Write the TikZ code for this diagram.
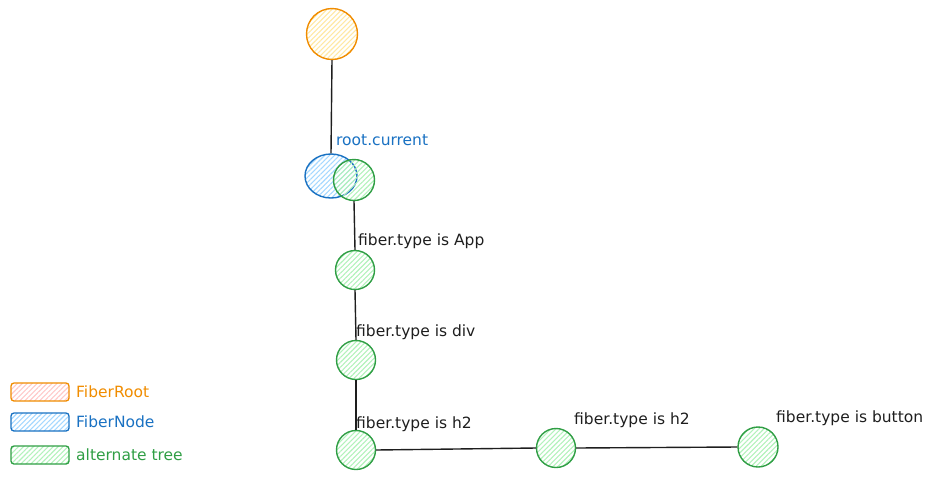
\documentclass[tikz,border=0pt]{standalone}
\usepackage{fontspec}
\setmainfont{DejaVu Sans}
\usetikzlibrary{patterns.meta,shapes.geometric}
\definecolor{cOr}{HTML}{F08C00}
\definecolor{cOrFill}{HTML}{FFE8A3}
\definecolor{cPink}{HTML}{FFC9C9}
\definecolor{cBl}{HTML}{1971C2}
\definecolor{cBlFill}{HTML}{A5D8FF}
\definecolor{cGr}{HTML}{2F9E44}
\definecolor{cGrFill}{HTML}{B2F2BB}
\definecolor{cInk}{HTML}{1E1E1E}
\tikzset{
  hatch/.style={pattern={Lines[angle=45,distance=3.5pt,line width=1.1pt]},pattern color=#1},
  gnode/.style={circle,draw=cGr,line width=1.4pt,hatch=cGrFill,minimum size=39pt,inner sep=0pt},
  onode/.style={circle,draw=cOr,line width=1.4pt,hatch=cOrFill,minimum size=51pt,inner sep=0pt},
  bnode/.style={ellipse,draw=cBl,line width=1.4pt,hatch=cBlFill,minimum width=52pt,minimum height=44pt,inner sep=0pt},
  link/.style={draw=cInk,line width=1.4pt},
  lbl/.style={anchor=west,inner sep=0pt,font=\fontsize{15.5}{17}\selectfont,text=cInk},
  legbox/.style={rounded corners=3pt,line width=1.3pt,minimum width=58pt,minimum height=18pt,inner sep=0pt},
  legtxt/.style={anchor=west,inner sep=0pt,font=\fontsize{15.5}{17}\selectfont}
}
\begin{document}
\begin{tikzpicture}[x=1pt,y=-1pt]
\useasboundingbox (0,0) rectangle (939,480);
% nodes
\node[onode] (root) at (332,34) {};
\node[bnode] (cur) at (331,176) {};
\node[gnode,minimum size=41pt] (alt) at (354,180) {};
\node[gnode] (app) at (355,270) {};
\node[gnode] (div) at (356,360) {};
\node[gnode] (h2a) at (356,450) {};
\node[gnode] (h2b) at (556,448) {};
\node[gnode,minimum size=40pt] (btn) at (758,447) {};
% links
\draw[link] (root.south) -- (cur.north);
\draw[link] (alt.south) -- (app.north);
\draw[link] (app.south) -- (div.north);
\draw[link] (div.south) -- (h2a.north);
\draw[link] (h2a.east) -- (h2b.west);
\draw[link] (h2b.east) -- (btn.west);
% labels
\node[lbl,text=cBl] (lcur) at (336,140) {root.current};
\node[lbl] (lapp) at (358,241) {fiber.type is App};
\node[lbl] (ldiv) at (356,332) {fiber.type is div};
\node[lbl] (lh2a) at (356,424) {fiber.type is h2};
\node[lbl] (lh2b) at (574,420) {fiber.type is h2};
\node[lbl] (lbtn) at (776,418) {fiber.type is button};
% legend
\node[legbox,draw=cOr,hatch=cPink] (k1) at (40,392) {};
\node[legtxt,text=cOr] (t1) at (76,392) {FiberRoot};
\node[legbox,draw=cBl,hatch=cBlFill] (k2) at (40,422) {};
\node[legtxt,text=cBl] (t2) at (76,422) {FiberNode};
\node[legbox,draw=cGr,hatch=cGrFill] (k3) at (40,455) {};
\node[legtxt,text=cGr] (t3) at (76,455) {alternate tree};
\end{tikzpicture}
\end{document}
